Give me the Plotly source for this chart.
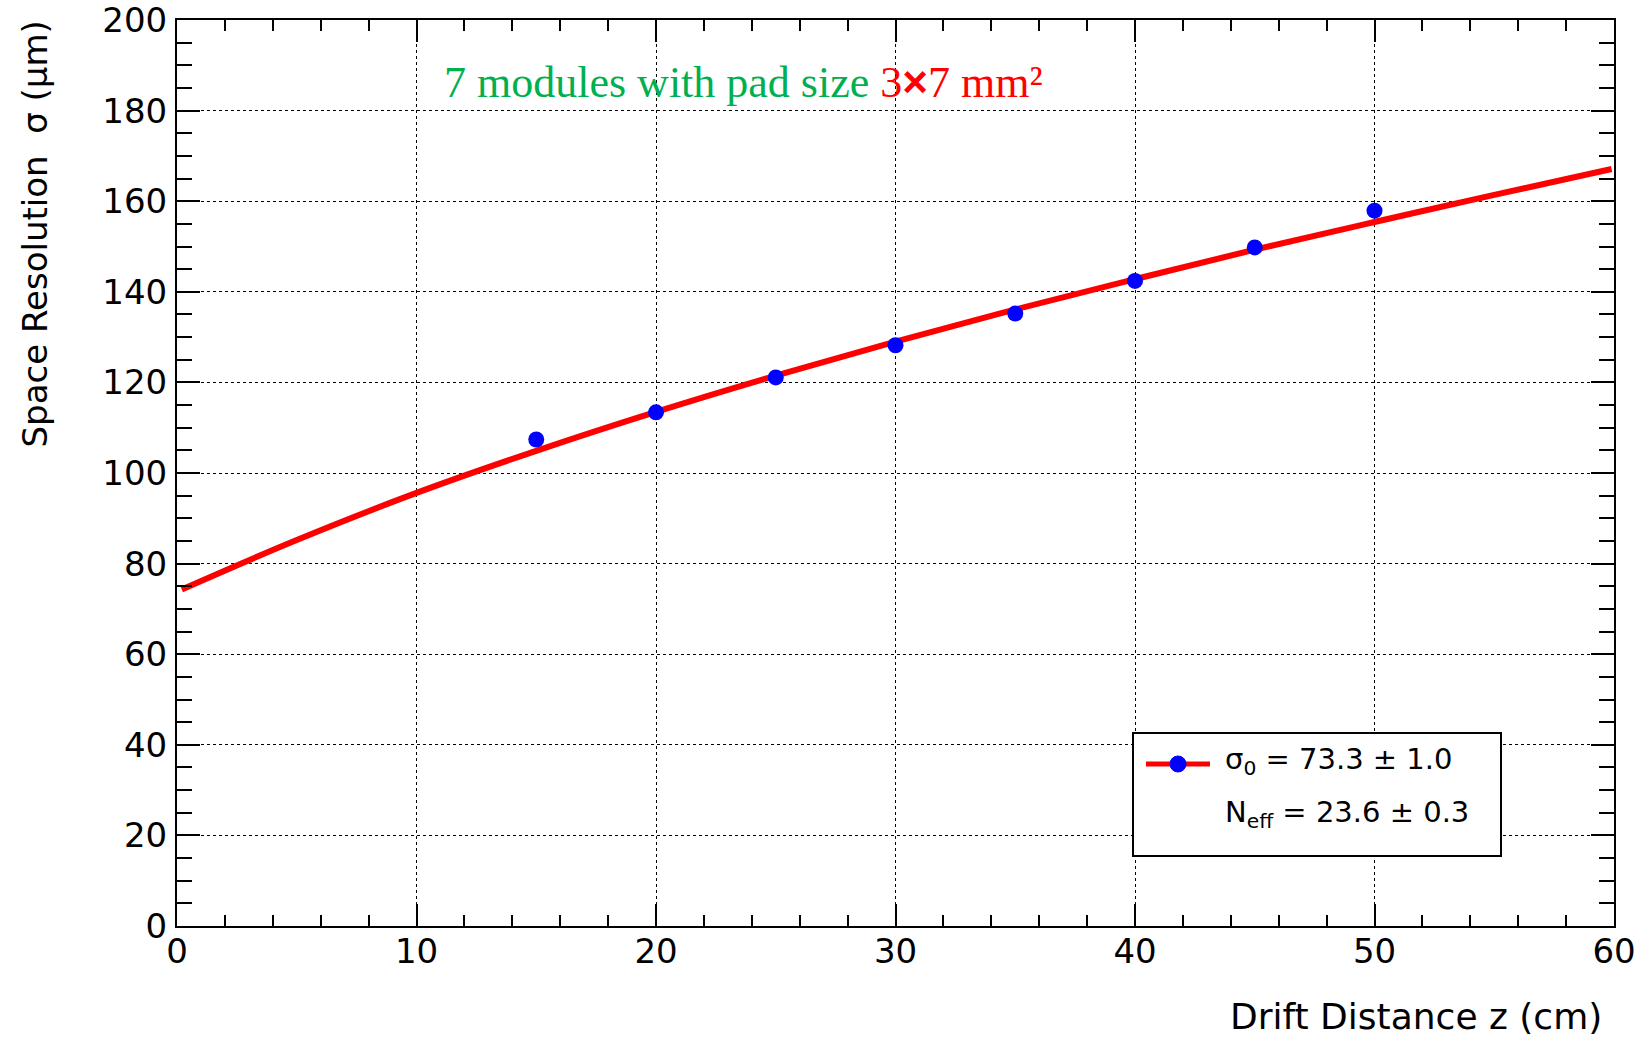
import plotly.graph_objects as go

# Measured points
z_data = [15, 20, 25, 30, 35, 40, 45, 50]
sigma_data = [107.4, 113.4, 121.1, 128.2, 135.2, 142.4, 149.8, 157.9]

# Fit curve values
z_fit = [0.2, 5, 10, 15, 20, 25, 30, 35, 40, 45, 50, 55, 59.9]
sigma_fit = [74.3, 85.2, 95.6, 104.9, 113.5, 121.5, 129.0, 136.1, 142.8, 149.3, 155.4, 161.4, 167.1]

x_ticks = [0, 10, 20, 30, 40, 50, 60]
y_ticks = [0, 20, 40, 60, 80, 100, 120, 140, 160, 180, 200]

title_green = "7 modules with pad size "
title_red_a = "3"
title_red_x = "\u00d7"
title_red_b = "7 mm\u00b2"
legend_line1 = "\u03c3<sub>0</sub> = 73.3 \u00b1 1.0"
legend_line2 = "N<sub>eff</sub> = 23.6 \u00b1 0.3"
x_title = "Drift Distance z (cm)"
y_title = "Space Resolution \u00a0\u03c3 (\u03bcm)"

SANS = "DejaVu Sans, Arial, sans-serif"
SERIF = "Times New Roman, Liberation Serif, serif"

W, H = 1645, 1038
L, R, T, B = 177, 31, 20, 112
PW, PH = W - L - R, H - T - B


def px(x):
    return (x - L) / PW


def py(y):
    return (H - B - y) / PH


fig = go.Figure()
fig.add_trace(go.Scatter(x=z_fit, y=sigma_fit, mode="lines", line=dict(color="#ff0000", width=6, shape="spline"),
                         showlegend=False, hoverinfo="skip"))
fig.add_trace(go.Scatter(x=z_data, y=sigma_data, mode="markers", marker=dict(color="#0000ff", size=16),
                         showlegend=False))

axis_common = dict(
    showline=True, linecolor="black", linewidth=2, mirror="allticks",
    ticks="inside", tickcolor="black", tickwidth=1.5,
    showgrid=True, gridcolor="black", gridwidth=1.2, griddash="dot",
    zeroline=False, ticklabeloverflow="allow", automargin=False,
    tickfont=dict(family=SANS, size=34, color="black"),
)

fig.update_xaxes(range=[0, 60], tickvals=x_ticks, ticklen=22,
                 minor=dict(dtick=2, ticklen=11, tickcolor="black", tickwidth=1.5, showgrid=False, ticks="inside"),
                 ticklabelstandoff=-6, **axis_common)
fig.update_yaxes(range=[0, 200], tickvals=y_ticks, ticklen=23,
                 minor=dict(dtick=5, ticklen=15, tickcolor="black", tickwidth=1.5, showgrid=False, ticks="inside"),
                 ticklabelstandoff=1, **axis_common)

title_html = (f'<span style="color:#00b050">{title_green}</span>'
              f'<span style="color:#ff0000">{title_red_a}</span>'
              f'<span style="color:#ff0000;font-family:Arial, Liberation Sans;font-weight:bold">{title_red_x}</span>'
              f'<span style="color:#ff0000">{title_red_b}</span>')

annotations = [
    dict(text=title_html,
         x=px(442), y=py(82), xref="paper", yref="paper", xanchor="left", yanchor="middle",
         showarrow=False, font=dict(family=SERIF, size=44)),
    dict(text=x_title, x=px(1604), y=py(1016), xref="paper", yref="paper", xanchor="right", yanchor="middle",
         showarrow=False, font=dict(family=SANS, size=36, color="black")),
    dict(text=y_title, x=px(34), y=py(19), xref="paper", yref="paper", xanchor="center", yanchor="top",
         textangle=-90, showarrow=False, font=dict(family=SANS, size=34, color="black")),
    dict(text=legend_line1, x=px(1223), y=py(761), xref="paper", yref="paper", xanchor="left", yanchor="middle",
         showarrow=False, font=dict(family=SANS, size=29, color="black")),
    dict(text=legend_line2, x=px(1223), y=py(814), xref="paper", yref="paper", xanchor="left", yanchor="middle",
         showarrow=False, font=dict(family=SANS, size=29, color="black")),
]

shapes = [
    dict(type="rect", xref="paper", yref="paper", x0=px(1133), x1=px(1501), y0=py(856), y1=py(733),
         line=dict(color="black", width=2), fillcolor="white", layer="above"),
    dict(type="line", xref="paper", yref="paper", x0=px(1146), x1=px(1210), y0=py(764), y1=py(764),
         line=dict(color="#ff0000", width=5), layer="above"),
    dict(type="circle", xref="paper", yref="paper", x0=px(1170), x1=px(1186), y0=py(772), y1=py(756),
         line=dict(color="#0000ff", width=1), fillcolor="#0000ff", layer="above"),
]

fig.update_layout(
    width=W, height=H,
    margin=dict(l=L, r=R, t=T, b=B, pad=0, autoexpand=False),
    paper_bgcolor="white", plot_bgcolor="white",
    annotations=annotations, shapes=shapes,
    showlegend=False,
)

fig.write_html("out.html", config={"displayModeBar": False},
               post_script="document.body.style.margin='0';document.body.style.overflow='hidden';")
